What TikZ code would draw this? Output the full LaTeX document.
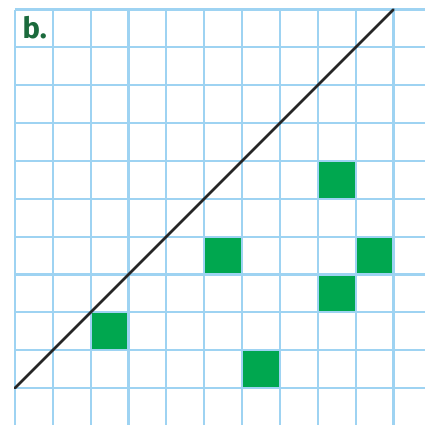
\documentclass[tikz,border=0pt]{standalone}
\usepackage{fontspec}
\setsansfont{Fira Sans}
\definecolor{gridblue}{HTML}{9ED3F2}
\definecolor{sqgreen}{HTML}{00A74F}
\definecolor{labgreen}{HTML}{1B6A3C}
\begin{document}
\begin{tikzpicture}[x=1cm,y=1cm,
  gridline/.style={draw=gridblue,line width=1.6pt},
  cell/.style={fill=sqgreen,draw=none},
  diag/.style={draw=black!85,line width=1.9pt,line cap=round}]
\useasboundingbox (-0.396,-0.951) rectangle (10.832,10.251);
\fill[white] (-0.396,-0.951) rectangle (10.832,10.251);
% green squares
\foreach \i/\j in {2/1,5/3,8/5,9/3,8/2,6/0}{
  \fill[cell] (\i,\j) rectangle ++(1,1);
}
% grid
\foreach \i in {0,...,10}{
  \draw[gridline] (\i,-1) -- (\i,10);
  \draw[gridline] (0,\i) -- (10.9,\i);
}
% diagonal line
\coordinate (start) at (0,0);
\coordinate (end) at (10,10);
\draw[diag] (start) -- (end);
% label
\node[text=labgreen,font=\sffamily\bfseries\fontsize{22}{26}\selectfont,inner sep=0pt] (lab) at (0.52,9.52) {b.};
\end{tikzpicture}
\end{document}
